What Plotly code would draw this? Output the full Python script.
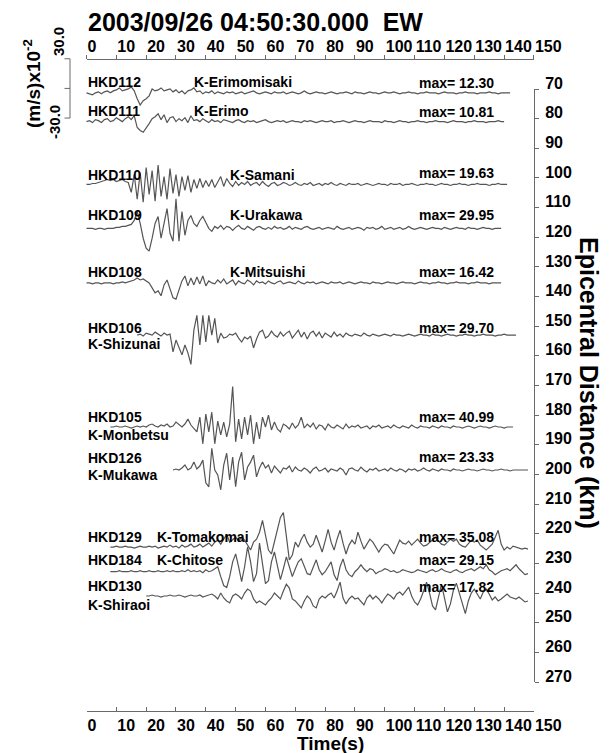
import plotly.graph_objects as go

# ---------------- data ----------------
stations = ["HKD112", "HKD111", "HKD110", "HKD109", "HKD108", "HKD106",
            "HKD105", "HKD126", "HKD129", "HKD184", "HKD130"]
sites = ["K-Erimomisaki", "K-Erimo", "K-Samani", "K-Urakawa", "K-Mitsuishi",
         "K-Shizunai", "K-Monbetsu", "K-Mukawa", "K-Tomakomai", "K-Chitose", "K-Shiraoi"]
distance_km = [71.3, 81.0, 102.2, 117.0, 135.4, 153.0, 184.0, 198.5, 224.5, 232.8, 241.0]
start_s = [0, 0, 0, 0, 0, 17, 8, 29, 8, 8, 20]
max_amp = ["12.30", "10.81", "19.63", "29.95", "16.42", "29.70",
           "40.99", "23.33", "35.08", "29.15", "17.82"]

# velocity samples (x10^-2 m/s), 1 s apart from each start time
wave_HKD112 = [0, -1, -2, 0, 1, -1, 1, 2, 0, 2, 3, 5, 2, 3, 4, 6, 2, -6, -12.3, -8, -6, -3, 4, 2, 3, 5, 2, 3, 4, 1,
               3, 0, 2, -1, 2, 3, 5, 1, 2, -1, 1, 0, 2, -1, 1, 0, -1, 1, 0, 1, -1, 0, 1, -1, 0, 1, 2, 0, -1, 0,
               1, 0, -1, 1, 0, 0, 1, -1, 0, 1, 0, -1, 0, 2, 0, -1, 0, 1, 0, 0, -1, 0, 1, 0, -1, 0, 0, 1, 0, -1,
               1, 0, 0, -1, 0, 1, 0, 0, -1, 0, 1, 0, 0, 1, 0, -1, 0, 0, 1, 0, 0, -1, 0, 0, 1, 0, 0, 0, -1, 0,
               1, 0, 0, 0, -1, 0, 0, 1, 0, 0, 0, -1, 0, 0, 0, 1, 0, 0, -1, 0, 0, 0, 0]
wave_HKD111 = [0, 1, -1, 2, 1, -1, 2, 3, 0, 1, 4, 2, 0, 3, 5, 2, 6, -6, -9, -10.8, -7, -2, 3, 5, 8, 2, 7, -1, 4, 5,
               0, 3, 1, 4, -1, 6, 1, 2, 0, 3, 1, -1, 2, 0, 1, -1, 2, 1, 0, -1, 1, 2, 0, -1, 1, 0, 1, -1, 0, 1,
               2, 0, -1, 0, 1, 0, 1, -1, 0, 1, 0, 0, -1, 1, 0, 1, 0, -1, 0, 1, 0, 0, 1, -1, 0, 0, 1, 0, -1, 0,
               1, 0, 0, -1, 0, 1, 0, 0, 0, -1, 1, 0, 0, -1, 0, 1, 0, 0, -1, 0, 0, 1, 0, 0, -1, 0, 0, 1, 0, 0,
               0, -1, 0, 1, 0, 0, 0, -1, 0, 0, 1, 0, 0, 0, -1, 0, 0, 0, 1, 0, 0]
wave_HKD110 = [0, 0, 1, 1, 2, 3, 4, 5, 4, 5, 3, 4, 5, 3, 2, -8, 10, -15, 12, -18, 17, -10, 14, -17, 19.6, -12, 8, -15, 16, -9,
               10, -12, 8, -6, 9, -8, 5, -4, 6, -3, 4, -2, 5, -3, 3, 8, -2, 6, 1, -2, 3, -1, 2, 0, 3, -1, 1, 2, -1, 3,
               0, -2, 1, 2, -1, 0, 2, 1, -1, 0, 2, 0, -1, 1, 0, 2, -1, 0, 1, -1, 1, 0, 2, 0, -1, 1, 0, -1, 1, 0,
               0, 1, -1, 0, 1, 0, -1, 0, 1, 0, 0, -1, 1, 0, 0, 1, -1, 0, 0, 1, 0, -1, 0, 0, 1, 0, 0, -1, 0, 1,
               0, 0, -1, 0, 0, 1, 0, 0, -1, 0, 0, 1, 0, 0, 0, -1, 0, 0, 1, 0, 0, 0]
wave_HKD109 = [0, 0, 0, -1, 0, 0, -1, 0, 0, 0, 1, 1, 2, 2, 3, 4, 8, 17, 5, -10, -20, -23, -10, 5, 12, -10, 5, 20, -5, -13,
               29.9, -13, 17, -7, 8, 13, 5, 2, 8, 12, 6, 0, -3, 2, 0, 3, -1, 2, 1, -2, 1, 3, 0, -1, 2, 0, -2, 1, 2, 0,
               -1, 1, -1, 2, 0, 1, -1, 0, 2, -1, 1, 0, -1, 1, 2, 0, -1, 0, 1, -1, 0, 1, 0, -1, 2, 0, -1, 0, 1, -1,
               0, 1, 0, -2, 1, 0, 1, -1, 0, 2, -1, 0, 1, -1, 0, 1, -1, 0, 2, 0, -1, 0, 1, 0, -1, 0, 1, 0, 0, -1,
               1, 0, -1, 0, 1, 0, 0, -1, 1, 0, 0, -1, 0, 1, 0, 0, -1, 0, 0, 0]
wave_HKD108 = [0, 0, -1, 0, 0, -1, 0, 0, 0, -1, 0, 0, 1, 0, 1, 2, 3, 5, 3, 4, 2, 0, -5, -10, -8, -13, -2, 3, -6, -15,
               -16.4, -8, 2, 7, -3, 5, -2, 6, -1, 7, -3, 2, 0, -1, 3, 0, 4, -1, 1, 3, -2, 2, 0, -1, 3, 1, -2, 2, 0, 1,
               -1, 2, 0, -1, 1, 2, -1, 0, 1, 0, -1, 2, 0, -1, 1, 0, 1, -1, 0, 1, 0, -1, 1, 0, 0, 1, -1, 0, 1, 0,
               -1, 0, 1, 0, 0, -1, 1, 0, 0, -1, 0, 1, 0, 0, -1, 0, 1, 0, 0, 0, -1, 0, 1, 0, 0, -1, 0, 0, 1, 0,
               0, -1, 0, 0, 1, 0, 0, 0, -1, 0, 0, 1, 0, 0, 0, -1, 0, 0, 0, 0]
wave_HKD106 = [0, 1, -1, 2, 1, 0, 3, 1, -1, 2, 0, 1, -17, -5, -12, -20, -10, -18, -29.7, 5, 20, -10, 20, -7, 20, 0, 17, -8, 2, -3,
               -2, 1, 0, 2, -3, -7, -2, -4, -1, -13, -4, 3, 5, -3, -1, 4, 0, -2, 3, -1, 2, 4, -3, 1, 5, -2, 3, -4, 2, 4,
               -1, 3, -3, 2, 0, -2, 3, -1, 1, -2, 2, 0, -1, 1, 0, -1, 2, 0, -1, 1, 0, -1, 0, 1, 0, -1, 1, 0, 0, -1,
               0, 1, 0, -1, 0, 1, 0, 0, -1, 1, 0, 0, -1, 0, 1, 0, 0, -1, 0, 0, 1, 0, 0, -1, 0, 0, 1, 0, 0, 0,
               -1, 0, 0, 1, 0, 0, 0, 0]
wave_HKD105 = [0, 0, 1, 0, 0, 1, 0, -1, 0, 1, 0, 1, 0, 2, 3, 1, 0, 2, 1, 3, 0, 1, 5, 2, 0, 3, 8, 2, -1,
               -5, 10, -17, 13, -5, 15, -17, 6, -8, 5, -10, 3, 41, -15, 8, -12, 10, -8, 12, -17, 5, -12, 10, 0, 12, -3,
               5, -2, -5, 3, 1, -2, 4, -1, 2, 10, -1, 3, 0, 4, -2, 2, 1, -3, 3, 0, -1, 2, 0, -2, 3, -1, 1, 0, 2, -1,
               0, 1, -2, 1, 0, 2, -1, 0, 1, -1, 2, 0, -1, 1, 0, -1, 2, 0, -1, 1, 0, 0, -1, 1, 0, -1, 1, 0, 0, -1,
               1, 0, 0, -1, 0, 1, 0, -1, 0, 1, 0, 0, -1, 0, 1, 0, 0, -1, 0, 0, 0]
wave_HKD126 = [0, 1, 0, 2, 5, 0, 2, 8, 1, 4, 10, -13, -17, 22, 0, -5, -20, 5, 17, -10, 13, -17, 8, 18, -10, 3, 8, 15, -7, 2,
               8, 2, 5, -3, 4, 0, -3, 2, 1, 4, -2, 3, 0, -1, 2, 0, -3, 1, 3, -1, 0, 2, -2, 1, 0, -1, 2, 0, -5, 1,
               2, 0, -1, 3, 0, -2, 1, 0, 2, -1, 0, 1, -1, 2, 0, -1, 1, 0, -2, 1, 0, 1, -1, 0, 2, 0, -1, 1, 0, -1,
               1, 0, 0, -1, 1, 0, 0, -1, 0, 1, 0, 0, -1, 0, 1, 0, 0, -1, 0, 0, 1, 0, 0, -1, 0, 0, 0, 0, 0, 0]
wave_HKD129 = [0, 0, 1, 0, 0, 1, 0, 0, -1, 0, 1, 0, 0, 1, 0, 1, -1, 0, 1, 0, 2, 0, 1, -1, 2, 0, 1, 3, 0,
               1, 3, 0, 2, 4, 1, 5, 7, 3, 8, 13, 5, 8, 10, 6, 10, 7, 2, -3, 5, 8, 15, 27, 12, -3, -7, 5, 18, 30, 35,
               10, -13, -8, 5, 0, 8, 13, 5, 0, 3, 12, 4, -5, 6, 18, 5, -3, 8, 17, 4, -7, 2, 7, 3, 15, 6, -2, 3, 8, 5,
               0, -5, 0, 3, 2, -3, -7, 0, 7, 4, 3, 6, 2, 5, 8, 4, 1, 2, 5, 7, 10, 6, 3, 2, 5, 8, 6, 8, 3, 1,
               0, 3, 7, 5, 7, 2, -1, -3, 0, 3, 10, 17, 3, -3, 0, -2, 1, 0, -1, -2, -1, -2]
wave_HKD184 = [0, 0, 0, 1, 0, 0, 0, 1, 0, 0, 1, 0, 0, 1, 0, 0, 1, 0, 0, 1, 0, 1, 0, 0, 1, 0, 2, 0, 1, 0,
               1, -1, 2, 0, 1, 3, 5, -5, -14, -16, -5, 10, 18, 5, -10, 5, 25, 10, -10, -2, 29, 8, -12, -9, 10, 20, 5, -8, 3, 15,
               5, -5, 3, 10, 13, 5, -2, -3, 5, 12, 2, -3, 0, 5, 10, -3, -9, 5, 13, 2, -3, -5, 0, 3, 7, 3, 0, 3, 2, -2,
               0, 1, 3, 2, 0, 1, -1, 0, 2, 1, 0, -1, 0, 2, 1, 0, -1, 1, 2, 0, 1, 3, 1, 0, -1, 1, 2, 0, -1, 1,
               2, 3, 1, 3, 5, 3, 7, 2, 0, -3, -1, 1, 2, 3, 1, 4, 7, 3, 0, -3, -2]
wave_HKD130 = [0, 0, 1, 0, 0, -1, 0, 0, 1, 0, 0, 1, 0, -1, 0, 1, 0, 0, 1, -1, 0, 1, 2, 0,
               -3, 3, -2, -5, -7, 0, 2, 0, -3, 3, 7, 5, -3, -7, -5, -7, -9, -5, -2, 3, 0, -3, 5, 12, 8, -3,
               -5, -8, -12, -5, 0, -3, -10, -12, -3, 0, -2, 1, 3, -2, 5, 14, -2, -8, -3, 0, -3, -2, -5, -9, -2, 1, -3, 0, -3, -7,
               -2, 2, 0, -3, 2, 4, 1, 5, 9, 0, -6, -9, -3, 5, 14, 3, -10, -14, 0, 12, -2, -16, -8, 6, 13, 2, -7, -17.8, -5, 3,
               7, 2, -3, 4, 7, 2, -4, -1, -5, -3, 0, 2, -1, -2, -3, -1, -4, -6, -5]
waves = [wave_HKD112, wave_HKD111, wave_HKD110, wave_HKD109, wave_HKD108, wave_HKD106,
         wave_HKD105, wave_HKD126, wave_HKD129, wave_HKD184, wave_HKD130]

time_ticks = [0, 10, 20, 30, 40, 50, 60, 70, 80, 90, 100, 110, 120, 130, 140, 150]
dist_ticks = [70, 80, 90, 100, 110, 120, 130, 140, 150, 160, 170, 180, 190, 200, 210, 220, 230, 240, 250, 260, 270]
scale_amp = [30.0, 0.0, -30.0]          # amplitude scale bar (x10^-2 m/s)
scale_labels = ["30.0", "0.0", "-30.0"]

# ---------------- geometry (page pixels) ----------------
W, H = 610, 753
OFF = 8                             # default page margin around the plot div
PX_T0, PX_PER_S = 86.5, 2.983      # time axis: page pixel of t=0 and px per second
PY_D70, PX_PER_KM = 89.0, 2.965    # distance axis: page pixel of 70 km and px per km
KM_PER_UNIT = 10.0 / 30.0          # 30 x10^-2 m/s of the scale bar spans 10 km

x_lo = (OFF - PX_T0) / PX_PER_S
x_hi = (W + OFF - PX_T0) / PX_PER_S
y_top = 70 + (OFF - PY_D70) / PX_PER_KM
y_bot = 70 + (H + OFF - PY_D70) / PX_PER_KM

def px(x):
    return (x - OFF) / W

def py(y):
    return 1 - (y - OFF) / H

GREY = "#555555"
AX = "#6a6a6a"
FONT = "Liberation Sans, Arial, Helvetica, sans-serif"

fig = go.Figure()

for d, t0, w in zip(distance_km, start_s, waves):
    t = [t0 + i for i in range(len(w))]
    y = [d - v * KM_PER_UNIT for v in w]
    fig.add_trace(go.Scatter(x=t, y=y, mode="lines", line=dict(color=GREY, width=1.2),
                             hoverinfo="skip", showlegend=False))

# amplitude scale bar (bracket) left of the section
bar_t = (70 - PX_T0) / PX_PER_S
tick_t = (64.5 - PX_T0) / PX_PER_S
bar_center = 69.8
bx, by = [], []
for a in scale_amp:
    yy = bar_center - a * KM_PER_UNIT
    bx += [tick_t, bar_t, None]
    by += [yy, yy, None]
bx += [bar_t, bar_t]
by += [bar_center - scale_amp[0] * KM_PER_UNIT, bar_center - scale_amp[-1] * KM_PER_UNIT]
fig.add_trace(go.Scatter(x=bx, y=by, mode="lines", line=dict(color=AX, width=1),
                         hoverinfo="skip", showlegend=False))

# dummy traces so the display axes exist
fig.add_trace(go.Scatter(x=[None], y=[None], xaxis="x2", yaxis="y2", showlegend=False, hoverinfo="skip"))
fig.add_trace(go.Scatter(x=[None], y=[None], xaxis="x3", yaxis="y2", showlegend=False, hoverinfo="skip"))

tickfont = dict(family=FONT, size=16, color="black", weight="bold")
xdom = [px(PX_T0), px(PX_T0 + 150 * PX_PER_S)]
ydom = [py(PY_D70 + 200 * PX_PER_KM), py(PY_D70)]

common_x = dict(domain=xdom, range=[0, 150], anchor="free", showline=True, linecolor=AX, linewidth=1,
                tickcolor=AX, ticklen=4, tickwidth=1, tickmode="array", tickvals=time_ticks,
                ticktext=[str(v) for v in time_ticks], tickfont=tickfont, showgrid=False, zeroline=False,
                fixedrange=True, ticklabelposition="outside right", tickangle=0, automargin=False)

fig.update_layout(
    width=W, height=H, margin=dict(l=0, r=0, t=0, b=0, autoexpand=False),
    paper_bgcolor="white", plot_bgcolor="rgba(0,0,0,0)", showlegend=False,
    xaxis=dict(range=[x_lo, x_hi], domain=[0, 1], visible=False, fixedrange=True, automargin=False),
    yaxis=dict(range=[y_bot, y_top], domain=[0, 1], visible=False, fixedrange=True, automargin=False),
    xaxis2=dict(common_x, side="top", position=py(58.5), ticks="outside"),
    xaxis3=dict(common_x, side="bottom", position=py(711), ticks="inside"),
    yaxis2=dict(domain=ydom, range=[270, 70], anchor="free", position=px(PX_T0 + 150 * PX_PER_S),
                side="right", showline=True, linecolor=AX, linewidth=1, ticks="outside", ticklen=4,
                tickcolor=AX, tickmode="array", tickvals=dist_ticks, ticktext=[str(v) for v in dist_ticks],
                tickfont=tickfont, ticklabelposition="outside", ticklabelshift=6, ticklabelstandoff=3,
                showgrid=False, zeroline=False, fixedrange=True, automargin=False),
)

def label(text, x, y, size=14, xanchor="left", angle=0):
    fig.add_annotation(text=text, x=px(x), y=py(y), xref="paper", yref="paper", showarrow=False,
                       xanchor=xanchor, yanchor="middle", textangle=angle,
                       font=dict(family=FONT, size=size, color="black", weight="bold"))

# title and axis titles
label("2003/09/26 04:50:30.000\u00a0 EW", 86, 22, size=25)
label("Time(s)", 330, 743, size=19, xanchor="center")
label("Epicentral Distance (km)", 589, 383, size=25, xanchor="center", angle=90)
label("(m/s)x10<sup>-2</sup>", 32, 84, size=19, xanchor="center", angle=-90)
label(scale_labels[0], 59, 42, size=15, xanchor="center", angle=-90)
label(scale_labels[2], 55, 122, size=15, xanchor="center", angle=-90)

# station annotations (pixel positions read from the record section)
code_y = [82, 111, 175, 215, 272, 328, 417, 458, 537, 560, 586]
site_xy = [(192, 82), (192, 111), (228, 175), (228, 215), (228, 272), (86, 344),
           (86, 435), (86, 475), (155, 537), (155, 560), (86, 605)]
max_y = [83, 112, 173, 215, 272, 328, 417, 457, 537, 560, 587]
for code, site, m, cy, (sx, sy), my in zip(stations, sites, max_amp, code_y, site_xy, max_y):
    label(code, 86, cy)
    label(site, sx, sy)
    label("max= " + m, 417, my)

fig.write_html("out.html")
